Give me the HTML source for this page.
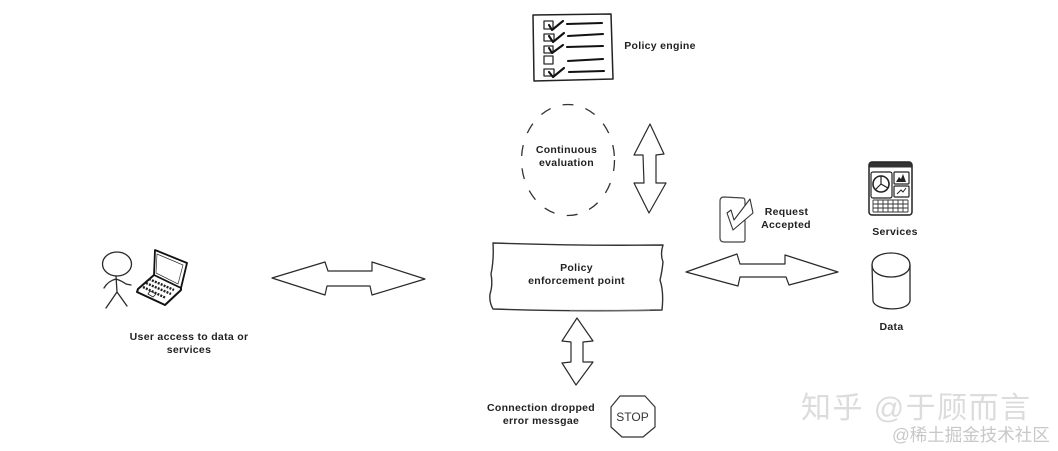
<!DOCTYPE html>
<html><head><meta charset="utf-8">
<style>
html,body{margin:0;padding:0;background:#fff;width:1058px;height:451px;overflow:hidden}
svg{display:block}
.t{font-family:"Liberation Sans",sans-serif;font-weight:700;font-size:10.5px;fill:#222;text-anchor:middle;letter-spacing:.3px}
.l{fill:none;stroke:#2a2a2a;stroke-width:1.2;stroke-linejoin:round;stroke-linecap:round}
.m{fill:none;stroke:#222;stroke-width:1.5;stroke-linecap:round;stroke-linejoin:round}
.h{fill:none;stroke:#111;stroke-width:2.1;stroke-linecap:round;stroke-linejoin:round}
.w{font-family:"Liberation Sans","Noto Sans CJK SC",sans-serif;fill:#dcdcdc}
</style></head><body>
<svg width="1058" height="451" viewBox="0 0 1058 451" xmlns="http://www.w3.org/2000/svg">
<rect width="1058" height="451" fill="#fff"/>

<g style="filter:blur(.35px)">
<!-- checklist -->
<path class="m" d="M533,15 L611,14 L613,79 L534,81 Z"/>
<g class="l" style="stroke-width:1.3">
<rect x="544" y="21" width="9" height="8"/><rect x="544" y="34" width="10" height="7"/><rect x="544" y="46" width="9" height="7"/><rect x="544" y="56" width="9" height="8"/><rect x="544" y="69" width="10" height="7"/>
</g>
<path class="h" d="M549,25 L552,30 L563,21 M549,36 L553,42 L564,33 M549,48 L552,53 L563,45 M549,72 L553,77 L564,68"/>
<path class="h" d="M567,24 L602,23 M568,36 L603,34 M567,47 L603,46 M568,61 L603,59 M569,72 L604,71"/>

<!-- dashed ellipse -->
<ellipse cx="568" cy="160" rx="46.5" ry="55.5" fill="none" stroke="#333" stroke-width="1.3" stroke-dasharray="11 12.5"/>

<!-- arrows -->
<g class="l">
<path d="M650,124 L664,154 L656,155 L656,183 L666,183 L649,213 L634,183 L644,183 L643,155 L634,155 Z"/>
<path d="M272,278 L325,262 L328,271 L372,271 L372,262 L425,279 L372,295 L370,286 L327,286 L325,295 Z"/>
<path d="M686,272 L737,254 L740,264 L785,264 L785,255 L838,272 L789,285 L786,277 L740,277 L738,286 Z"/>
<path d="M577,318 L593,341 L583,342 L583,362 L593,362 L576,385 L562,363 L571,362 L571,342 L562,341 Z"/>
</g>

<!-- PEP -->
<path d="M493,243 Q580,246 663,245 Q660,254 663,262 Q662,272 660,280 Q664,292 662,310 Q580,312 493,309 Q489,302 490,294 Q493,285 491,274 Q494,260 493,243 Z" fill="none" stroke="#333" stroke-width="1.4" stroke-linejoin="round"/>
<path d="M570,310.5 L650,310.5" stroke="#666" stroke-width="1.2"/>

<!-- person -->
<g class="l" style="stroke-width:1.3">
<ellipse cx="117" cy="264" rx="14.5" ry="12"/>
<path d="M116,276 L117,292 M104,288 Q108,281 116,279 Q122,281 126,284 L131,285 M117,292 L106,308 M117,292 L127,306"/>
</g>

<!-- laptop -->
<path d="M155,250 L187,263 L181,288 L154,275 Z" fill="none" stroke="#111" stroke-width="1.8" stroke-linejoin="round"/>
<path d="M157,254 L183,265 L178,284 L156,273 Z" fill="none" stroke="#333" stroke-width=".7"/>
<path d="M154,275 L138,289 L137,292 L165,305 L181,290 L181,288" fill="none" stroke="#111" stroke-width="2" stroke-linejoin="round"/>
<path d="M149,279 L174,290 M146,283 L171,294 M143,287 L166,298" stroke="#222" stroke-width="2.4" stroke-dasharray="2 1.2" fill="none"/>
<path d="M150,291 L156,294 L153,297 L148,294 Z" fill="#fff" stroke="#222" stroke-width=".8"/>

<!-- request -->
<path d="M724,197 L743,198 Q745,198 745,202 L745,240 Q745,242 743,242 L724,242 Q720,242 720,238 L720,201 Q720,197 724,197 Z" fill="none" stroke="#444" stroke-width="1.2" stroke-linejoin="round"/>
<path d="M727,213 L731,210 L734,220 L750,199 L753,213 L733,230 Z" fill="#fff" stroke="#333" stroke-width="1.1" stroke-linejoin="round"/>

<!-- services -->
<rect x="869" y="162" width="43" height="53" rx="3" fill="none" stroke="#222" stroke-width="1.5"/>
<rect x="869.5" y="162.5" width="42" height="5" fill="#333"/>
<rect x="871" y="172" width="21" height="26" rx="2" fill="none" stroke="#222" stroke-width="1.2"/>
<circle cx="881" cy="184" r="8" fill="none" stroke="#222" stroke-width="1.6"/>
<path d="M881,176 L881,184 L888,188 M881,184 L875,190" fill="none" stroke="#222" stroke-width="1.2"/>
<rect x="894" y="172" width="15" height="12" rx="1" fill="none" stroke="#222" stroke-width="1.2"/>
<path d="M896,182 L899,177 L901,179 L903,174 L906,182 Z" fill="#222"/>
<rect x="894" y="186" width="15" height="11" rx="1" fill="none" stroke="#222" stroke-width="1.2"/>
<path d="M897,194 L901,190 L903,192 L906,188" fill="none" stroke="#222"/>
<path d="M873,200 H908 M873,204 H908 M873,208 H908 M873,212 H908 M873,200 V212 M878,200 V212 M883,200 V212 M888,200 V212 M893,200 V212 M898,200 V212 M903,200 V212 M908,200 V212" stroke="#333" stroke-width=".9" fill="none"/>

<!-- cylinder -->
<g class="l" style="stroke-width:1.3">
<path d="M872,265 C872,249 910,249 910,265 C910,281 872,281 872,265 Z"/>
<path d="M872,265 L873,301 C875,311 908,312 910,301 L910,265"/>
</g>

<!-- stop -->
<path d="M620,396 L645,396 L655,407 L655,427 L643,437 L622,437 L611,427 L611,407 Z" fill="none" stroke="#333" stroke-width="1.2" stroke-linejoin="round"/>
<text x="632.5" y="421" text-anchor="middle" font-family="'Liberation Sans',sans-serif" font-size="12" fill="#333">STOP</text>

<!-- labels -->
<text class="t" x="660" y="49">Policy engine</text>
<text class="t" x="566.5" y="153">Continuous</text>
<text class="t" x="566.5" y="166">evaluation</text>
<text class="t" x="786.5" y="215">Request</text>
<text class="t" x="786" y="228">Accepted</text>
<text class="t" x="895" y="235">Services</text>
<text class="t" x="891.5" y="330">Data</text>
<text class="t" x="576.5" y="271">Policy</text>
<text class="t" x="576.5" y="284">enforcement point</text>
<text class="t" x="189" y="340">User access to data or</text>
<text class="t" x="189" y="353">services</text>
<text class="t" x="541" y="411">Connection dropped</text>
<text class="t" x="541" y="424">error messgae</text>
</g>

<!-- watermarks -->
<text class="w" x="801" y="418" font-size="30" textLength="229">知乎 @于顾而言</text>
<text class="w" x="892" y="441" font-size="17.5" style="fill:#c8c8c8">@稀土掘金技术社区</text>
</svg>
</body></html>
